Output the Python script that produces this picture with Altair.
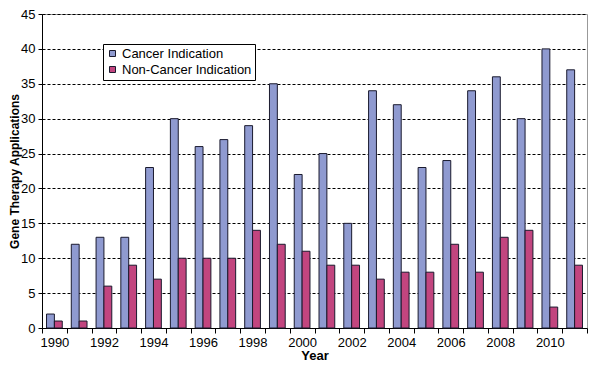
import altair as alt
import pandas as pd

years = list(range(1990, 2012))
cancer = [2, 12, 13, 13, 23, 30, 26, 27, 29, 35, 22, 25, 15, 34, 32, 23, 24, 34, 36, 30, 40, 37]
non_cancer = [1, 1, 6, 9, 7, 10, 10, 10, 14, 12, 11, 9, 9, 7, 8, 8, 12, 8, 13, 14, 3, 9]
series = ["Cancer Indication", "Non-Cancer Indication"]
colors = ["#8F9AD0", "#C2457F"]

rows = []
for y, c, n in zip(years, cancer, non_cancer):
    rows.append({"Year": y, "Series": series[0], "Value": c})
    rows.append({"Year": y, "Series": series[1], "Value": n})
df = pd.DataFrame(rows)

FONT = "Liberation Sans"

chart = alt.Chart(df).mark_bar(stroke="#1a1a2e", strokeWidth=1).encode(
    x=alt.X(
        "Year:O",
        scale=alt.Scale(paddingInner=0, paddingOuter=0),
        axis=alt.Axis(
            title="Year",
            labelAngle=0,
            labelOverlap=False,
            labelExpr="datum.value % 2 == 0 ? datum.label : ''",
            tickBand="extent",
            tickSize=5,
            tickColor="black",
            domainColor="black",
            labelFontSize=13,
            labelFont=FONT,
            labelColor="black",
            labelPadding=3,
            titleFont=FONT,
            titleFontSize=13,
            titleFontWeight="bold",
            titleColor="black",
            titleY=21,
            titleBaseline="top",
            grid=False,
        ),
    ),
    xOffset=alt.XOffset(
        "Series:N",
        sort=series,
        scale=alt.Scale(paddingInner=0, paddingOuter=0.575),
    ),
    y=alt.Y(
        "Value:Q",
        scale=alt.Scale(domain=[0, 45], nice=False),
        axis=alt.Axis(
            title="Gene Therapy Applications",
            values=list(range(0, 50, 5)),
            grid=True,
            gridColor="black",
            gridDash=[3, 2],
            gridWidth=1,
            tickSize=4,
            tickColor="black",
            domainColor="black",
            labelFontSize=13,
            labelFont=FONT,
            labelColor="black",
            labelPadding=3,
            titleFont=FONT,
            titleFontSize=12,
            titleFontWeight="bold",
            titleColor="black",
            titleX=-28,
            titleY=157,
            titleAlign="center",
            titleBaseline="middle",
        ),
    ),
    color=alt.Color(
        "Series:N",
        sort=series,
        scale=alt.Scale(domain=series, range=colors),
        legend=alt.Legend(
            title=None,
            orient="none",
            legendX=61,
            legendY=30,
            strokeColor="black",
            fillColor="white",
            padding=3,
            labelFontSize=13,
            labelFont=FONT,
            labelColor="black",
            symbolType="square",
            symbolSize=36,
            symbolStrokeColor="#1a1a2e",
            symbolStrokeWidth=1,
            rowPadding=2,
            labelOffset=3,
        ),
    ),
).properties(
    width=545,
    height=314,
    autosize=alt.AutoSizeParams(type="none"),
    padding={"left": 34, "top": 6, "right": 2, "bottom": 34},
).configure_view(
    stroke="#999999",
    strokeWidth=1,
)

chart.save("out.html", embed_options={"renderer": "svg", "actions": False})
